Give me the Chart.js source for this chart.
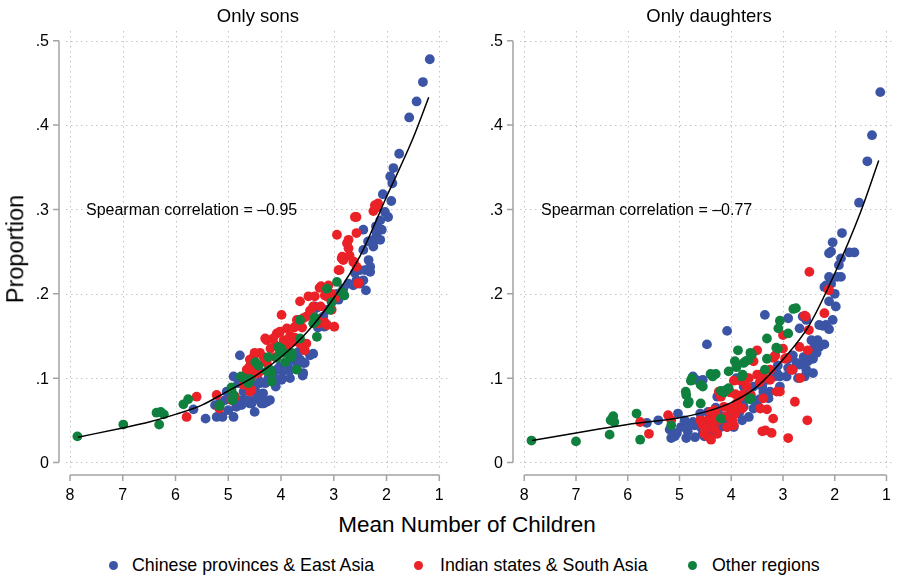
<!DOCTYPE html>
<html>
<head>
<meta charset="utf-8">
<script src="https://cdn.jsdelivr.net/npm/chart.js@4.4.0/dist/chart.umd.min.js"></script>
<style>
    body { margin: 0; width: 899px; height: 576px; position: relative; overflow: hidden; background: #fff;
           font-family: "Liberation Sans", Arial, Helvetica, sans-serif; color: #000; }
    canvas { position: absolute; top: 0; }
    #chart-sons { left: 0; }
    #chart-daughters { left: 456px; }
    .lbl { position: absolute; white-space: nowrap; line-height: 1; }
    .title { font-size: 18.5px; transform: translateX(-50%); top: 7px; }
    .axis-title { font-size: 22.5px; }
    .corr { font-size: 16px; top: 202px; }
    .legend { position: absolute; top: 556px; font-size: 17.8px; line-height: 18px; white-space: nowrap; }
    .dot { position: absolute; width: 9px; height: 9px; border-radius: 50%; top: 561px; }
</style>
</head>
<body>
<canvas id="chart-sons" width="456" height="510"></canvas>
<canvas id="chart-daughters" width="443" height="510"></canvas>

<div class="lbl title" style="left:258px">Only sons</div>
<div class="lbl title" style="left:709px">Only daughters</div>
<div class="lbl corr" style="left:86px">Spearman correlation = –0.95</div>
<div class="lbl corr" style="left:541px">Spearman correlation = –0.77</div>
<div class="lbl axis-title" style="left:16px;top:249px;font-size:23.5px;transform:translate(-50%,-50%) rotate(-90deg)">Proportion</div>
<div class="lbl axis-title" style="left:467px;top:525px;transform:translate(-50%,-50%)">Mean Number of Children</div>

<span class="dot" style="left:109px;background:#3b54a5"></span>
<span class="legend" style="left:132px">Chinese provinces &amp; East Asia</span>
<span class="dot" style="left:414px;background:#ea2127"></span>
<span class="legend" style="left:440px">Indian states &amp; South Asia</span>
<span class="dot" style="left:688px;background:#10803f"></span>
<span class="legend" style="left:712px">Other regions</span>

<script>
// ejes compartidos
const xTicks = [8, 7, 6, 5, 4, 3, 2, 1];
const yTicks = [0, 0.1, 0.2, 0.3, 0.4, 0.5];
const yTickLabels = ['0', '.1', '.2', '.3', '.4', '.5'];

// Only sons
const sonsEastAsia = [
    [1.18,.478],[1.31,.451],[1.43,.428],[1.57,.409],[1.76,.366],[1.87,.349],[1.93,.339],[1.89,.331],[2.07,.318],[1.91,.310],
    [2.03,.297],[1.97,.291],[2.12,.287],[2.09,.276],[2.19,.272],[2.25,.264],[2.12,.264],[2.25,.256],[2.44,.276],[2.44,.252],
    [2.34,.240],[2.31,.232],[2.50,.228],[2.41,.228],[2.31,.226],[2.44,.216],[2.57,.216],[2.63,.210],[2.50,.212],[2.39,.204],
    [2.72,.212],[2.82,.206],[2.94,.200],[2.91,.193],[3.04,.191],[3.13,.181],[3.20,.173],[3.13,.163],[3.26,.169],[3.36,.185],
    [3.39,.183],[3.33,.183],[3.39,.129],[3.26,.165],[3.18,.161],
    [3.45,.127],[3.58,.118],[3.64,.122],[3.58,.106],[3.67,.131],[3.77,.125],[3.89,.114],[3.83,.110],[4.02,.114],[3.96,.108],
    [4.08,.110],[3.99,.100],[4.15,.098],[4.24,.100],[4.21,.074],[4.30,.094],[4.37,.070],[4.40,.094],[4.49,.090],[4.52,.074],
    [4.59,.070],[4.65,.074],[4.75,.068],[4.71,.084],[4.81,.094],[4.90,.102],[4.94,.084],[5.03,.084],[5.06,.074],[5.16,.070],
    [5.25,.068],[5.22,.054],[5.11,.054],[4.90,.054],[4.78,.127],[4.59,.114],[4.43,.110],[3.83,.100],[4.33,.070],
    [5.66,.063],[5.43,.052],[5.13,.055],[4.34,.082],[4.27,.072],[4.56,.070],
    [4.75,.074],[4.68,.072],[4.62,.086],[4.52,.092],[4.40,.096],[4.15,.104],[3.99,.098],[3.70,.118],[3.55,.118],[3.59,.103],
    [4.62,.102],[4.37,.074],[4.10,.090],[4.45,.082],[4.85,.066],[5.00,.062],[4.50,.060],[3.85,.120],[3.30,.160],[2.60,.225],
    [2.35,.262],[2.20,.280]
];
const sonsSouthAsia = [
    [2.22,.305],[2.16,.307],[2.25,.298],[2.57,.291],[2.60,.291],[2.94,.270],[2.72,.264],[2.57,.272],[2.72,.254],[2.85,.242],
    [2.82,.240],[2.63,.238],[2.91,.228],[2.57,.232],[2.54,.212],[3.27,.207],[3.24,.209],[3.17,.198],[3.11,.196],[3.36,.197],
    [3.48,.197],[3.64,.191],[3.04,.200],[2.97,.195],[3.04,.181],[3.39,.185],[3.52,.173],[3.58,.171],[3.32,.170],[3.29,.165],
    [3.17,.166],[3.13,.163],[2.99,.161],[3.99,.175],[3.89,.159],[3.70,.169],[3.83,.150],[3.74,.148],[4.08,.153],[4.02,.155],
    [4.15,.147],[4.27,.145],[4.30,.147],[3.89,.139],[3.77,.143],[3.64,.141],[3.52,.141],[3.55,.133],[4.11,.139],[4.52,.125],
    [4.59,.122],[4.49,.119],[4.59,.114],[4.52,.110],[4.55,.102],[4.33,.125],[4.30,.122],[4.27,.118],[4.43,.106],[4.11,.125],
    [4.87,.078],[4.94,.074],[4.59,.084],[4.71,.092],[5.79,.054],[5.60,.078],[5.22,.080],[5.17,.064],[4.56,.086],[2.75,.260],
    [2.62,.238],[2.53,.213],[2.20,.302],[2.89,.228],[2.84,.244],
    [4.40,.130],[4.50,.130],[4.20,.135],[3.95,.145],[3.60,.160],[3.45,.180],[3.25,.185],[4.65,.110],[3.75,.160],[3.10,.210],
    [2.70,.245]
];
const sonsOther = [
    [7.86,.031],[6.99,.045],[6.31,.045],[6.36,.059],[6.28,.060],[6.22,.057],[5.76,.075],[5.85,.069],[5.17,.067],[4.94,.089],
    [4.90,.078],[4.92,.074],[4.76,.102],[4.62,.094],[5.16,.068],[4.90,.080],[4.94,.086],[4.71,.100],[4.59,.099],[4.43,.115],
    [4.49,.119],[4.24,.125],[4.21,.110],[4.27,.108],[4.18,.106],[4.02,.131],[3.99,.135],[3.96,.130],[4.05,.137],[4.08,.124],
    [3.92,.119],[3.80,.130],[3.83,.127],[3.70,.110],[3.80,.125],[3.64,.147],[3.64,.169],[3.32,.149],[3.36,.172],[3.34,.167],
    [3.39,.165],[3.07,.181],[3.04,.190],[2.94,.214],[3.13,.206],[2.82,.200],[2.85,.202],[2.80,.198],[4.18,.096]
];
const sonsFitX = [7.85, 7.0, 6.5, 6.0, 5.5, 5.0, 4.5, 4.0, 3.5, 3.0, 2.5, 2.0, 1.5, 1.2];
const sonsFitY = [.030, .041, .048, .057, .068, .085, .102, .125, .155, .195, .245, .315, .384, .433];

// Only daughters
const daughtersEastAsia = [
    [1.12,.439],[1.28,.388],[1.37,.357],[1.53,.308],[1.86,.272],[1.62,.249],
    [2.04,.261],[2.07,.250],[2.11,.248],[1.72,.249],[1.88,.242],[1.92,.234],[1.88,.220],[2.11,.220],[2.17,.210],[2.20,.208],
    [2.07,.212],[2.11,.191],[1.98,.185],[2.04,.169],[2.17,.163],[2.23,.162],[2.11,.158],[2.33,.145],[2.39,.141],[2.30,.137],
    [2.39,.137],[2.55,.169],[2.62,.173],[2.68,.159],[2.90,.171],[3.35,.175],[4.08,.156],[4.47,.140],
    [2.46,.127],[2.42,.123],[2.52,.120],[2.58,.118],[2.68,.116],[2.74,.118],[2.81,.127],[2.90,.123],[2.90,.112],[2.81,.110],
    [2.93,.102],[3.06,.102],[3.12,.106],[3.16,.102],[3.06,.090],[3.25,.084],[3.38,.084],[3.28,.076],[2.42,.106],[2.58,.102],
    [2.71,.100],[3.31,.098],[3.57,.090],[3.66,.086],[3.76,.090],[3.82,.078],[3.76,.066],[3.57,.064],[3.66,.054],[3.79,.050],
    [3.95,.042],[4.08,.042],[4.14,.050],[4.20,.042],[4.33,.048],[4.39,.042],[4.46,.037],[4.52,.031],[4.59,.042],[4.71,.044],
    [4.74,.048],[4.84,.037],[4.87,.029],[4.97,.042],[5.03,.058],[5.09,.031],[5.19,.039],[5.16,.029],[5.41,.050],[5.63,.047],
    [4.74,.102],[4.55,.098],[5.05,.035],[4.70,.030],[4.65,.045],[4.68,.098],[4.30,.065],[4.27,.078],[3.90,.100],[3.80,.072],
    [3.50,.070],[3.45,.075],[3.10,.115],[2.50,.130],[2.30,.163],[4.40,.055],[4.25,.058],[4.60,.058],[4.00,.060],
    [4.80,.045],[4.60,.050],[4.45,.060],[4.35,.035],[4.90,.050],[4.55,.035],[4.25,.045],[4.00,.050],[3.85,.058],[3.60,.075],
    [3.40,.090],[2.60,.125],[2.55,.110],[2.35,.130],[2.45,.145],[2.20,.140],[2.00,.200],[1.95,.220]
];
const daughtersSouthAsia = [
    [2.49,.226],[2.11,.204],[2.20,.177],[2.58,.174],[2.50,.157],[2.52,.133],[2.68,.137],[3.00,.151],[3.00,.135],[3.16,.126],
    [3.19,.124],[3.50,.133],[3.57,.120],[2.96,.123],[2.84,.110],[3.25,.110],[3.50,.104],[3.44,.104],[3.38,.102],[3.66,.100],
    [3.70,.090],[3.82,.097],[3.95,.097],[3.62,.080],[3.79,.080],[3.84,.078],[4.24,.084],[4.17,.082],[4.20,.078],[4.02,.083],
    [3.92,.081],[4.14,.066],[4.01,.064],[3.95,.062],[3.92,.058],[3.98,.050],[3.95,.044],[4.08,.042],[4.33,.062],[4.30,.058],
    [4.46,.050],[4.52,.046],[4.55,.044],[4.42,.044],[4.33,.040],[4.27,.034],[4.24,.050],[4.52,.034],[4.46,.031],[4.39,.027],
    [3.79,.064],[3.40,.037],[3.34,.038],[3.22,.035],[3.31,.063],[3.44,.064],[3.38,.076],[3.19,.052],[2.77,.072],[2.90,.029],
    [2.53,.050],[3.06,.084],[3.66,.078],[5.22,.056],[5.16,.050],[5.76,.048],[5.59,.034],[3.15,.127],[3.12,.084],[2.93,.124],
    [2.82,.110],[2.67,.100],[2.56,.173],[2.12,.205],[3.25,.098],[4.50,.040],
    [4.60,.050],[4.35,.050],[4.10,.055],[3.90,.070],[3.70,.100],[3.45,.095],[4.40,.060]
];
const daughtersOther = [
    [7.86,.026],[7.00,.025],[6.35,.033],[6.30,.052],[6.33,.050],[6.26,.048],[6.28,.055],[5.83,.058],[5.76,.027],[5.16,.044],
    [4.87,.080],[4.88,.084],[4.84,.070],[4.76,.100],[4.78,.097],[4.59,.070],[4.59,.092],[4.55,.090],[4.40,.105],[4.36,.102],
    [4.30,.105],[4.20,.052],[4.20,.085],[4.14,.083],[4.05,.108],[3.93,.120],[3.90,.113],[3.87,.133],[3.76,.118],[3.72,.120],
    [3.66,.122],[3.60,.128],[3.63,.130],[3.80,.102],[3.78,.104],[4.05,.088],[4.10,.086],[3.62,.076],[3.35,.110],[3.31,.123],
    [3.31,.147],[3.10,.135],[3.13,.136],[3.06,.168],[3.09,.159],[2.90,.153],[2.80,.182],[2.75,.183],[4.82,.072],[3.65,.075]
];
const daughtersFitX = [7.85, 7.0, 6.0, 5.0, 4.5, 4.0, 3.5, 3.0, 2.5, 2.0, 1.5, 1.15];
const daughtersFitY = [.026, .035, .045, .053, .060, .071, .090, .122, .162, .224, .297, .358];

const COLORS = { east: '#3b54a5', south: '#ea2127', other: '#10803f' };
const FONT = '16px "Liberation Sans", Arial, Helvetica, sans-serif';

const pts = arr => arr.map(([x, y]) => ({ x, y }));
const fitPts = (xs, ys) => xs.map((x, i) => ({ x, y: ys[i] }));

// ejes estilo Stata: rejilla punteada, ejes separados del área
const stataAxes = {
    id: 'stataAxes',
    beforeDatasetsDraw(chart) {
        const { ctx, chartArea: a, scales: { x, y } } = chart;
        ctx.save();
        ctx.strokeStyle = '#c4c4c4';
        ctx.lineWidth = 1;
        ctx.setLineDash([1.5, 3.5]);
        ctx.beginPath();
        xTicks.forEach(v => {
            const px = Math.round(x.getPixelForValue(v)) + 0.5;
            ctx.moveTo(px, a.top); ctx.lineTo(px, a.bottom);
        });
        yTicks.forEach(v => {
            const py = Math.round(y.getPixelForValue(v)) + 0.5;
            ctx.moveTo(a.left, py); ctx.lineTo(a.right, py);
        });
        ctx.stroke();
        ctx.restore();
    },
    afterDraw(chart) {
        const { ctx, chartArea: a, scales: { x, y } } = chart;
        const axX = a.left - 7;
        const axY = a.bottom + 5;
        ctx.save();
        ctx.strokeStyle = '#a3a3a3';
        ctx.lineWidth = 1.5;
        ctx.beginPath();
        ctx.moveTo(axX, y.getPixelForValue(0));
        ctx.lineTo(axX, y.getPixelForValue(0.5));
        yTicks.forEach(v => {
            const py = y.getPixelForValue(v);
            ctx.moveTo(axX, py); ctx.lineTo(axX - 6, py);
        });
        ctx.moveTo(x.getPixelForValue(8), axY);
        ctx.lineTo(x.getPixelForValue(1), axY);
        xTicks.forEach(v => {
            const px = x.getPixelForValue(v);
            ctx.moveTo(px, axY); ctx.lineTo(px, axY + 6);
        });
        ctx.stroke();

        ctx.fillStyle = '#000';
        ctx.font = FONT;
        ctx.textAlign = 'right';
        ctx.textBaseline = 'middle';
        yTicks.forEach((v, i) => ctx.fillText(yTickLabels[i], axX - 10, y.getPixelForValue(v) + 1));
        ctx.textAlign = 'center';
        xTicks.forEach(v => ctx.fillText(String(v), x.getPixelForValue(v), axY + 21));
        ctx.restore();
    }
};

function buildChart(id, east, south, other, fit, pad, xMin, xMax) {
    const scatter = (label, data, color, order) => ({
        label, data: pts(data), order,
        backgroundColor: color, borderWidth: 0,
        pointRadius: 4.9, pointHoverRadius: 4.9
    });
    return new Chart(document.getElementById(id), {
        type: 'scatter',
        data: {
            datasets: [
                scatter('Chinese provinces & East Asia', east, COLORS.east, 3),
                scatter('Indian states & South Asia', south, COLORS.south, 2),
                scatter('Other regions', other, COLORS.other, 1),
                {
                    type: 'line', label: 'fit', data: fit, order: 0,
                    borderColor: '#000', borderWidth: 1.5, pointRadius: 0,
                    showLine: true, fill: false, cubicInterpolationMode: 'monotone'
                }
            ]
        },
        options: {
            responsive: false,
            animation: false,
            devicePixelRatio: 1,
            layout: { padding: pad },
            scales: {
                x: { type: 'linear', reverse: true, min: xMin, max: xMax, display: false },
                y: { type: 'linear', min: -0.0089, max: 0.5115, display: false }
            },
            plugins: { legend: { display: false }, tooltip: { enabled: false } }
        },
        plugins: [stataAxes]
    });
}

buildChart('chart-sons', sonsEastAsia, sonsSouthAsia, sonsOther, fitPts(sonsFitX, sonsFitY),
    { left: 66, right: 5, top: 31, bottom: 40 }, 0.778, 8.0758);
buildChart('chart-daughters', daughtersEastAsia, daughtersSouthAsia, daughtersOther, fitPts(daughtersFitX, daughtersFitY),
    { left: 64, right: 0, top: 31, bottom: 40 }, 0.853, 8.082);
</script>
</body>
</html>
